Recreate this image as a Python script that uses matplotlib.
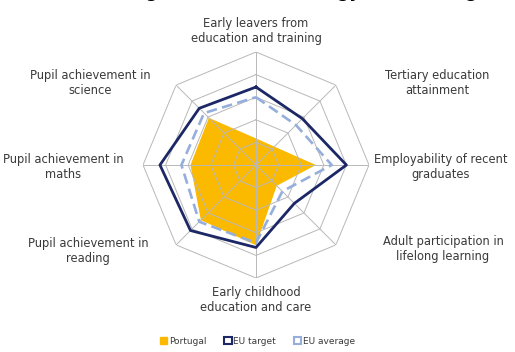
import numpy as np
import matplotlib
matplotlib.use("Agg")
import matplotlib.pyplot as plt
from matplotlib.patches import Patch

# axes clockwise from the top
categories = ["Early leavers from\neducation and training",
              "Tertiary education\nattainment",
              "Employability of recent\ngraduates",
              "Adult participation in\nlifelong learning",
              "Early childhood\neducation and care",
              "Pupil achievement in\nreading",
              "Pupil achievement in\nmaths",
              "Pupil achievement in\nscience"]

portugal = [0.235, 0.23, 0.53, 0.26, 0.71, 0.69, 0.58, 0.59]
eu_target = [0.69, 0.58, 0.80, 0.48, 0.73, 0.82, 0.85, 0.71]
eu_average = [0.60, 0.50, 0.67, 0.33, 0.69, 0.71, 0.66, 0.65]
rings = [0.2, 0.4, 0.6, 0.8, 1.0]
legend_labels = ["Portugal", "EU target", "EU average"]

orange = "#FBB900"
navy = "#1C2766"
light = "#95AEDC"
grey = "#B8B8B8"
txt = "#3A3A3A"

n = len(categories)
theta = np.arange(n) * 2 * np.pi / n
th = np.append(theta, theta[0])

def closed(v):
    return np.append(v, v[0])

fig = plt.figure(figsize=(5.15, 3.52), dpi=100)
cx, cy = 256 / 515, 1 - 165 / 352
rw, rh = 113 / 515, 113 / 352
ax = fig.add_axes([cx - rw, cy - rh, 2 * rw, 2 * rh], projection="polar")
ax.set_theta_zero_location("N")
ax.set_theta_direction(-1)
ax.set_ylim(0, 1)
ax.grid(False)
ax.set_xticks([])
ax.set_yticks([])
ax.spines["polar"].set_visible(False)
ax.patch.set_alpha(0)

ax.fill(th, closed(portugal), color=orange, lw=0, zorder=1)

for r in rings:
    ax.plot(th, [r] * (n + 1), color=grey, lw=0.7, zorder=2)
for t in theta:
    ax.plot([t, t], [0, 1], color=grey, lw=0.7, zorder=2)

ax.plot(th, closed(eu_average), color=light, lw=1.9, ls=(0, (4, 2)), zorder=3)
ax.plot(th, closed(eu_target), color=navy, lw=2.0, zorder=4)

# category labels
label_pos = [(256, 31), (437, 83), (441, 167), (443, 249),
             (256, 300), (88, 251), (63, 167), (90, 83)]
for lab, (x, y) in zip(categories, label_pos):
    fig.text(x / 515, 1 - y / 352, lab, ha="center", va="center",
             fontsize=8.3, color=txt, linespacing=1.2)

# title cut off at the top of the image
fig.text(0.5, 1 + 3 / 352, "Education targets (ET 2020 strategy) and Portugal",
         ha="center", va="baseline", fontsize=12, fontweight="bold", color="black")

handles = [Patch(facecolor=orange, edgecolor=orange),
           Patch(facecolor="white", edgecolor=navy, lw=1.5),
           Patch(facecolor="white", edgecolor=light, lw=1.5)]
fig.legend(handles, legend_labels, loc="center",
           bbox_to_anchor=(0.5, 1 - 341 / 352), ncol=3, frameon=False,
           fontsize=6.5, handlelength=0.8, handleheight=0.8,
           handletextpad=0.2, columnspacing=2.0, labelcolor=txt)

fig.savefig("out.png", dpi=100)
